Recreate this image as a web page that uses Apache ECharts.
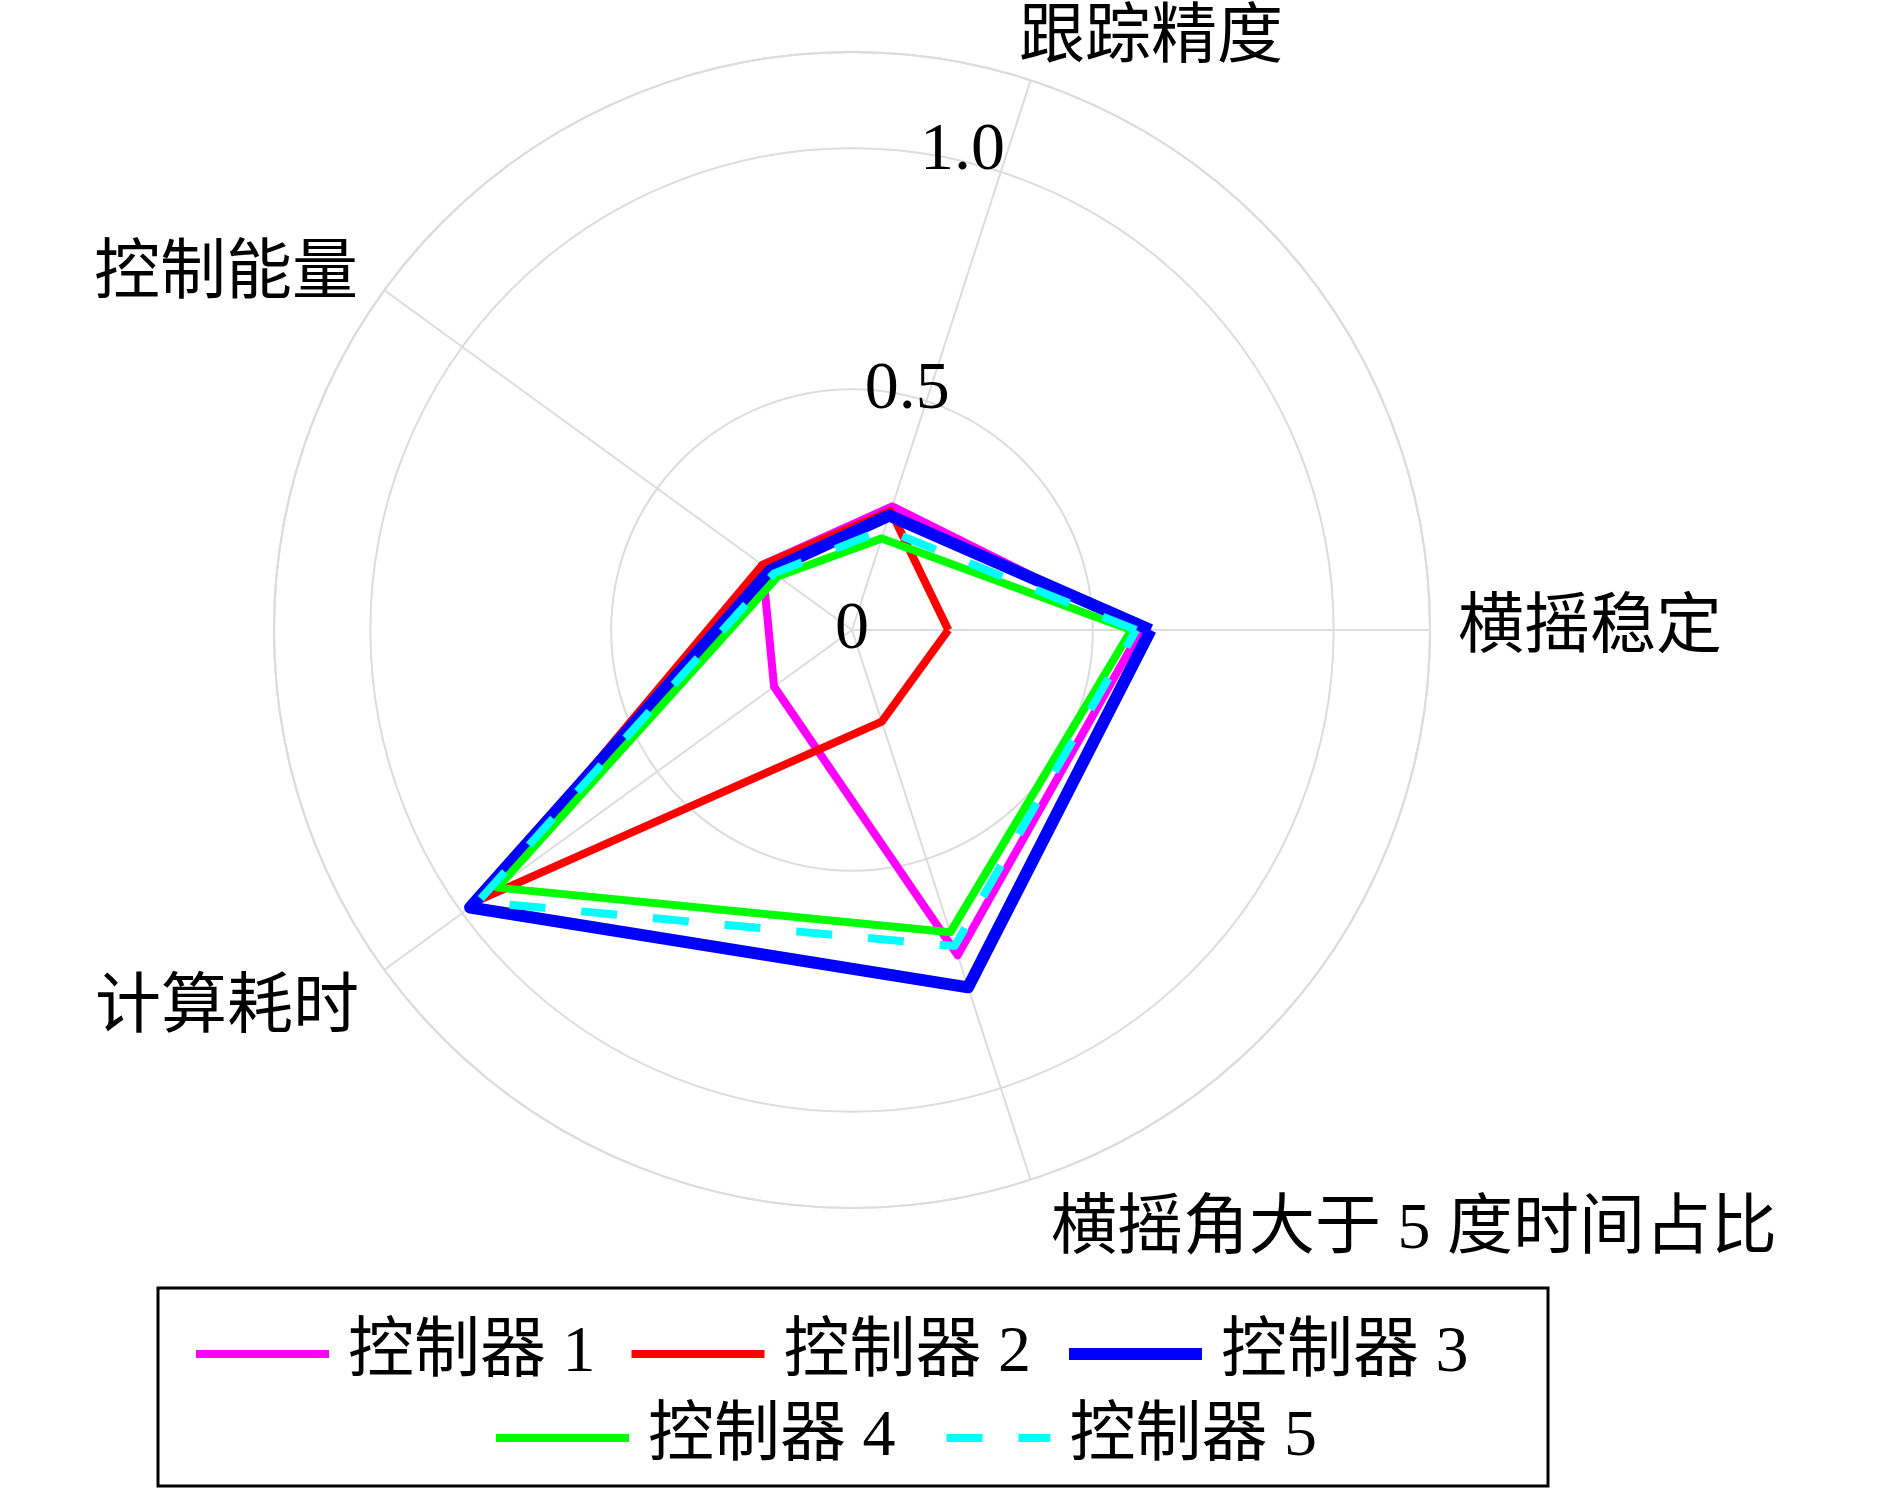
<!DOCTYPE html>
<html>
<head>
<meta charset="utf-8">
<script src="https://cdn.jsdelivr.net/npm/echarts@6/dist/echarts.min.js"></script>
<style>
  html, body { margin: 0; padding: 0; background: #fff; }
  #chart { width: 1890px; height: 1490px; }
</style>
</head>
<body>
<div id="chart"></div>
<script>
// Performance indicators, counter-clockwise from the right-hand spoke
const indicators = ['横摇稳定', '跟踪精度', '控制能量', '计算耗时', '横摇角大于 5 度时间占比'];

// Normalised scores per controller, in indicator order
const controller1 = [0.60, 0.27, 0.23, 0.20, 0.71];
const controller2 = [0.20, 0.26, 0.23, 0.95, 0.20];
const controller3 = [0.62, 0.25, 0.21, 0.98, 0.78];
const controller4 = [0.58, 0.20, 0.19, 0.91, 0.66];
const controller5 = [0.59, 0.22, 0.20, 0.96, 0.69];

const seriesNames = ['控制器 1', '控制器 2', '控制器 3', '控制器 4', '控制器 5'];

// Radial tick values
const radialTicks = [0, 0.5, 1.0];
const radialMax = 1.2;

const FONT = "'Liberation Serif', 'Noto Sans CJK SC', serif";
const GRID = '#dcdcdc';

const styles = [
  { color: '#ff00ff', width: 8, type: 'solid' },
  { color: '#ff0000', width: 8, type: 'solid' },
  { color: '#0000ff', width: 12, type: 'solid' },
  { color: '#00ff00', width: 8, type: 'solid' },
  { color: '#00ffff', width: 8, type: [36, 36] }
];

// Fine placement of each spoke label: [top, right, bottom, left] padding
const spokeLabelPadding = [
  [10, 0, 0, 4],
  [0, 0, -15, -19],
  [0, 7, -33, 0],
  [-7, 6, 0, 0],
  [-5, 0, 0, 13]
];

// Close each polygon by returning to the first indicator
function closedRing(values) {
  const pts = indicators.map((name, i) => [values[i], name]);
  pts.push([values[0], indicators[0]]);
  return pts;
}

const allValues = [controller1, controller2, controller3, controller4, controller5];

const series = allValues.map((vals, k) => ({
  name: seriesNames[k],
  type: 'line',
  coordinateSystem: 'polar',
  polarIndex: 0,
  symbol: 'none',
  smooth: false,
  clip: false,
  data: closedRing(vals),
  lineStyle: {
    color: styles[k].color,
    width: styles[k].width,
    type: styles[k].type,
    join: 'round',
    cap: 'butt'
  },
  itemStyle: { color: styles[k].color },
  z: 3
}));

const chart = echarts.init(document.getElementById('chart'), null, { renderer: 'canvas' });

const legendCommon = {
  orient: 'horizontal',
  itemWidth: 133,
  itemHeight: 2,
  itemGap: 32,
  padding: 0,
  textStyle: {
    fontFamily: FONT,
    fontSize: 66,
    color: '#000',
    padding: [0, 0, 0, 14]
  },
  itemStyle: { opacity: 0 },
  lineStyle: { width: 'inherit', type: 'inherit', color: 'inherit' },
  selectedMode: false
};

chart.setOption({
  animation: false,
  backgroundColor: '#fff',
  textStyle: { fontFamily: FONT },
  polar: [
    { center: [852, 630], radius: 578 },
    { center: [852, 630], radius: 590 }
  ],
  angleAxis: [
    {
      polarIndex: 0,
      type: 'category',
      data: indicators.map((name, i) => ({
        value: name,
        textStyle: { padding: spokeLabelPadding[i] }
      })),
      startAngle: -36,
      clockwise: false,
      boundaryGap: true,
      axisLine: { show: true, lineStyle: { color: GRID, width: 2 } },
      axisTick: { show: false, alignWithLabel: true },
      splitLine: { show: true, lineStyle: { color: GRID, width: 2 } },
      axisLabel: {
        show: true,
        margin: 24,
        fontSize: 66,
        fontFamily: FONT,
        color: '#000'
      }
    },
    {
      // carries the radial tick labels along their own direction
      polarIndex: 1,
      type: 'value',
      min: 0,
      max: 360,
      startAngle: 77,
      clockwise: false,
      axisLine: { show: false },
      axisTick: { show: false },
      axisLabel: { show: false },
      splitLine: { show: false }
    }
  ],
  radiusAxis: [
    {
      polarIndex: 0,
      type: 'value',
      min: radialTicks[0],
      max: radialMax,
      interval: radialTicks[1] - radialTicks[0],
      axisLine: { show: false },
      axisTick: { show: false },
      axisLabel: { show: false },
      splitLine: { show: true, lineStyle: { color: GRID, width: 2 } }
    },
    {
      polarIndex: 1,
      type: 'value',
      min: radialTicks[0],
      max: radialMax,
      interval: radialTicks[1] - radialTicks[0],
      axisLine: { show: false },
      axisTick: { show: false },
      splitLine: { show: false },
      axisLabel: {
        show: true,
        margin: 0,
        align: 'center',
        verticalAlign: 'middle',
        fontSize: 68,
        fontFamily: FONT,
        color: '#000',
        showMaxLabel: false,
        formatter: v => (radialTicks.includes(v) ? (v === 0 ? '0' : v.toFixed(1)) : '')
      },
      z: 5
    }
  ],
  legend: [
    Object.assign({}, legendCommon, {
      data: seriesNames.slice(0, 3),
      left: 192,
      top: 1321
    }),
    Object.assign({}, legendCommon, {
      data: [
        { name: seriesNames[3] },
        { name: seriesNames[4], lineStyle: { dashOffset: 43 } }
      ],
      itemGap: 18,
      left: 492,
      top: 1405
    })
  ],
  graphic: [
    {
      type: 'rect',
      shape: { x: 158, y: 1288, width: 1390, height: 198 },
      style: { fill: 'none', stroke: '#000', lineWidth: 3 },
      z: 10
    }
  ],
  series: series
});
</script>
</body>
</html>
